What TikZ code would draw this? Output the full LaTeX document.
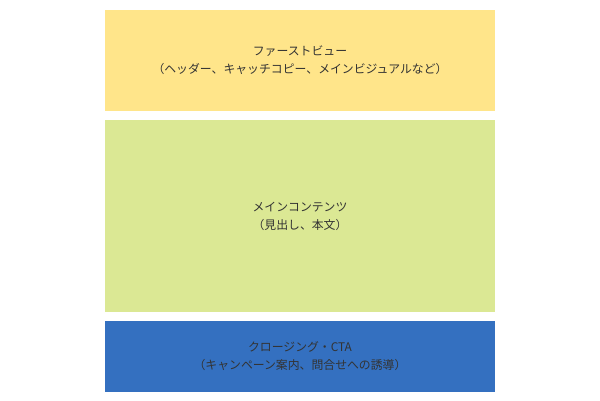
\documentclass[tikz,border=0pt]{standalone}
\usepackage{fontspec}
\setmainfont{Noto Sans CJK JP}
\definecolor{fvyellow}{HTML}{FFE58A}
\definecolor{mcgreen}{HTML}{DBE894}
\definecolor{ctablue}{HTML}{3470C0}
\definecolor{labelgray}{HTML}{333333}
\tikzset{
 section/.style={rectangle, inner sep=0pt, minimum width=390bp, align=center,
  text=labelgray, font=\fontsize{11.9}{18}\selectfont}
}
\begin{document}
\begin{tikzpicture}[x=1bp,y=-1bp]
 \useasboundingbox (0,0) rectangle (600,400);

 \node[section, fill=fvyellow, minimum height=101bp] (firstview) at (300,60.25)
  {ファーストビュー\\（ヘッダー、キャッチコピー、メインビジュアルなど）};
 \node[section, fill=mcgreen, minimum height=192bp] (main) at (300,216)
  {メインコンテンツ\\（見出し、本文）};
 \node[section, fill=ctablue, minimum height=71bp] (closing) at (300,356.5)
  {クロージング・CTA\\（キャンペーン案内、問合せへの誘導）};
\end{tikzpicture}
\end{document}
